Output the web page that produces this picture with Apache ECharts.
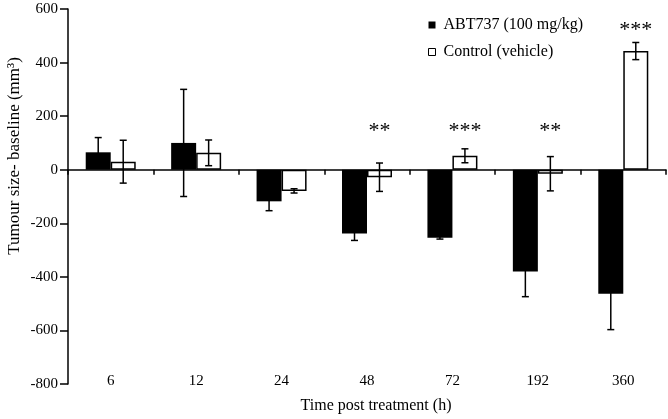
<!DOCTYPE html>
<html>
<head>
<meta charset="utf-8">
<script src="https://cdn.jsdelivr.net/npm/echarts@6/dist/echarts.min.js"></script>
<style>
html,body{margin:0;padding:0;background:#fff;}
#chart{width:668px;height:419px;}
</style>
</head>
<body>
<div id="chart"></div>
<script>
// ---- data ----
const categories = ['6', '12', '24', '48', '72', '192', '360'];
const abtMean = [65, 100, -118, -238, -254, -380, -463];
const abtErr = [55, 200, 35, 26, 5, 94, 134];
const ctrlMean = [30, 63, -79, -28, 52, -15, 443];
const ctrlErr = [80, 48, 8, 53, 26, 64, 32];
const sigCats = ['48', '72', '192', '360'];
const sigText = ['**', '***', '**', '***'];
const sigHeight = [142, 142, 142, 521];
const yTicks = { min: -800, max: 600, interval: 200 };

const FONT = '"Liberation Serif", "Times New Roman", serif';
const chart = echarts.init(document.getElementById('chart'));

const BAR_W = 25;
const errData = [];
categories.forEach((c, i) => {
  errData.push([i, abtMean[i], abtErr[i], -1]);
  errData.push([i, ctrlMean[i], ctrlErr[i], 1]);
});
const sigData = sigCats.map((c, k) => [categories.indexOf(c), sigHeight[k], sigText[k]]);

const option = {
  animation: false,
  backgroundColor: '#fff',
  grid: { left: 68, right: 2, top: 9, bottom: 33, containLabel: false },
  legend: {
    orient: 'vertical',
    left: 423,
    top: 12,
    itemWidth: 7,
    itemHeight: 7,
    itemGap: 11,
    icon: 'rect',
    textStyle: { fontFamily: FONT, fontSize: 16, color: '#000', padding: [0, 0, 0, 3] },
    data: [
      { name: 'ABT737 (100 mg/kg)', itemStyle: { color: '#000' } },
      { name: 'Control (vehicle)', itemStyle: { color: '#fff', borderColor: '#000', borderWidth: 1 } }
    ]
  },
  xAxis: [
    {
      type: 'category',
      data: categories,
      axisLine: { onZero: true, lineStyle: { color: '#000', width: 1.5 } },
      axisTick: { show: true, length: 5, lineStyle: { color: '#000', width: 1.5 } },
      axisLabel: { show: false },
      splitLine: { show: false }
    },
    {
      type: 'category',
      data: categories,
      position: 'bottom',
      axisLine: { show: false, onZero: false },
      axisTick: { show: false },
      axisLabel: { show: true, margin: -10, fontFamily: FONT, fontSize: 15, color: '#000' },
      splitLine: { show: false },
      name: 'Time post treatment (h)',
      nameLocation: 'middle',
      nameGap: 14,
      nameTextStyle: { fontFamily: FONT, fontSize: 16, color: '#000', padding: [0, 0, 0, 18] }
    }
  ],
  yAxis: {
    type: 'value',
    min: yTicks.min,
    max: yTicks.max,
    interval: yTicks.interval,
    axisLine: { show: true, lineStyle: { color: '#000', width: 1.5 } },
    axisTick: { show: true, length: 8, lineStyle: { color: '#000', width: 1.5 } },
    axisLabel: { margin: 10, fontFamily: FONT, fontSize: 15, color: '#000' },
    splitLine: { show: false }
  },
  graphic: [
    {
      type: 'text',
      x: 15,
      y: 156,
      rotation: Math.PI / 2,
      style: {
        text: 'Tumour size- baseline (mm³)',
        font: '17px ' + FONT,
        fill: '#000',
        align: 'center',
        verticalAlign: 'middle'
      }
    }
  ],
  series: [
    {
      name: 'ABT737 (100 mg/kg)',
      type: 'bar',
      xAxisIndex: 0,
      data: abtMean,
      barWidth: BAR_W,
      barGap: '0%',
      itemStyle: { color: '#000' }
    },
    {
      name: 'Control (vehicle)',
      type: 'bar',
      xAxisIndex: 0,
      data: ctrlMean,
      barWidth: BAR_W,
      barGap: '0%',
      itemStyle: { color: '#fff', borderColor: '#000', borderWidth: 1.5 }
    },
    {
      type: 'custom',
      xAxisIndex: 0,
      data: errData,
      z: 5,
      renderItem: function (params, api) {
        const idx = api.value(0), m = api.value(1), e = api.value(2), s = api.value(3);
        const hi = api.coord([idx, m + e]);
        const lo = api.coord([idx, m - e]);
        const x = hi[0] + s * BAR_W / 2;
        const cap = 3.5;
        const st = { stroke: '#000', lineWidth: 1.5 };
        return {
          type: 'group',
          children: [
            { type: 'line', shape: { x1: x, y1: hi[1], x2: x, y2: lo[1] }, style: st },
            { type: 'line', shape: { x1: x - cap, y1: hi[1], x2: x + cap, y2: hi[1] }, style: st },
            { type: 'line', shape: { x1: x - cap, y1: lo[1], x2: x + cap, y2: lo[1] }, style: st }
          ]
        };
      }
    },
    {
      type: 'custom',
      xAxisIndex: 0,
      data: sigData,
      z: 6,
      renderItem: function (params, api) {
        const idx = api.value(0), h = api.value(1);
        const p = api.coord([idx, h]);
        return {
          type: 'text',
          x: p[0] + BAR_W / 2,
          y: p[1],
          style: {
            text: sigData[params.dataIndex][2],
            font: '22px ' + FONT,
            fill: '#000',
            align: 'center',
            verticalAlign: 'middle'
          }
        };
      }
    }
  ]
};
chart.setOption(option);
</script>
</body>
</html>
